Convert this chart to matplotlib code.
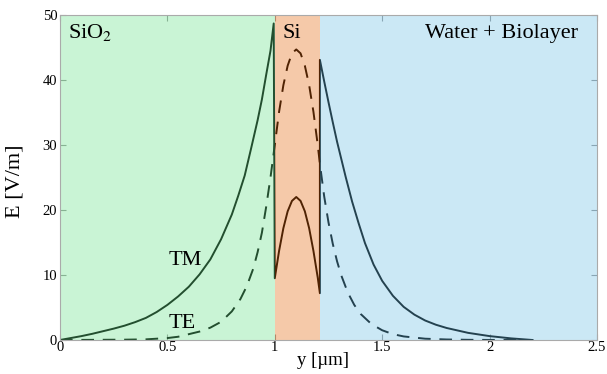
import matplotlib.pyplot as plt
import numpy as np

plt.rcParams['font.family'] = ['Liberation Serif', 'DejaVu Serif']
plt.rcParams['mathtext.fontset'] = 'stix'

# layer boundaries [um]
layers = [0.0, 1.0, 1.21, 2.5]
layer_names = ['SiO$_2$', 'Si', 'Water + Biolayer']
layer_colors = ['#65e187', '#e5650a', '#6abee5']

# TM field (SiO2 | Si | water)
tm_y = [0, 0.05, 0.1, 0.15, 0.2, 0.25, 0.3, 0.35, 0.4, 0.45, 0.5, 0.55, 0.6, 0.65, 0.7,
        0.75, 0.8, 0.83, 0.86, 0.89, 0.92, 0.94, 0.96, 0.98, 0.995,
        1.0, 1.02, 1.04, 1.06, 1.08, 1.1, 1.12, 1.14, 1.16, 1.18, 1.2, 1.21,
        1.21, 1.23, 1.25, 1.27, 1.29, 1.31, 1.33, 1.36, 1.39, 1.42, 1.46, 1.5, 1.55,
        1.6, 1.65, 1.7, 1.75, 1.8, 1.9, 2.0, 2.1, 2.2]
tm_E = [0, 0.3, 0.6, 0.95, 1.35, 1.75, 2.2, 2.75, 3.4, 4.3, 5.4, 6.7, 8.2, 10.1, 12.4,
        15.5, 19.3, 22.2, 25.3, 29.5, 33.8, 37, 40.8, 44.5, 48.7,
        9.5, 13.7, 17.2, 19.8, 21.4, 22, 21.4, 19.8, 17.2, 13.7, 9.6, 7.2,
        43.1, 39.8, 36.6, 33.5, 30.5, 27.8, 25.1, 21.3, 18, 14.9, 11.6, 9.1, 6.8,
        5.1, 3.9, 3.0, 2.35, 1.85, 1.1, 0.6, 0.25, 0]

# TE field
te_y = [0, 0.3, 0.4, 0.5, 0.55, 0.6, 0.65, 0.7, 0.75, 0.8, 0.84, 0.87, 0.9, 0.92, 0.94,
        0.96, 0.98, 1.0,
        1.02, 1.04, 1.06, 1.08, 1.1, 1.12, 1.14, 1.16, 1.18, 1.2, 1.21,
        1.23, 1.25, 1.27, 1.29, 1.31, 1.34, 1.37, 1.4, 1.45, 1.5, 1.55, 1.6, 1.7, 1.8,
        1.9, 2.0, 2.2]
te_E = [0, 0.05, 0.1, 0.3, 0.5, 0.9, 1.3, 1.9, 2.8, 4.4, 6.3, 8.3, 11, 13.5, 16.5,
        20.5, 25, 30,
        35.1, 39.2, 42.2, 44.1, 44.7, 44.1, 42.2, 39.2, 35.1, 30, 27.1,
        22.1, 18.1, 14.8, 12.1, 9.9, 7.3, 5.4, 4.0, 2.45, 1.5, 0.9, 0.55, 0.2, 0.08,
        0.03, 0.01, 0]

fig = plt.figure(figsize=(6.07, 3.74), dpi=100)
ax = fig.add_axes([0.0988, 0.0909, 0.8847, 0.869])

ax.plot(tm_y, tm_E, color='black', lw=1.4, zorder=2)
ax.plot(te_y, te_E, color='black', lw=1.4, ls=(0, (6.5, 4.5)), zorder=2)

# translucent layers over the lines tint them like the original
for i in range(3):
    ax.axvspan(layers[i], layers[i+1], color=layer_colors[i], alpha=0.35, lw=0, zorder=2.2)

ax.set_xlim(0, 2.5)
ax.set_ylim(0, 50)
ax.set_xticks([0, 0.5, 1, 1.5, 2, 2.5])
ax.set_xticklabels(['0', '0.5', '1', '1.5', '2', '2.5'])
ax.set_yticks([0, 10, 20, 30, 40, 50])
ax.tick_params(direction='in', top=True, right=True, labelsize=10.5, colors='#999999',
               labelcolor='black', length=4)
ax.tick_params(axis='x', pad=1)
ax.tick_params(axis='y', pad=2)
for s in ax.spines.values():
    s.set_color('#aaaaaa')
    s.set_zorder(3)

ax.set_xlabel('y [µm]', fontsize=13.5, va='center')
ax.xaxis.set_label_coords(0.49, -0.064)
ax.set_ylabel('E [V/m]', fontsize=16, va='center')
ax.yaxis.set_label_coords(-0.084, 0.49)

ax.text(0.037, 46.4, layer_names[0], fontsize=16, va='baseline')
ax.text(1.038, 46.4, layer_names[1], fontsize=16, va='baseline')
ax.text(2.412, 46.4, layer_names[2], fontsize=16, va='baseline', ha='right')
ax.text(0.504, 11.5, 'TM', fontsize=16, va='baseline')
ax.text(0.504, 1.8, 'TE', fontsize=16, va='baseline')

plt.savefig('out.png', dpi=100)
